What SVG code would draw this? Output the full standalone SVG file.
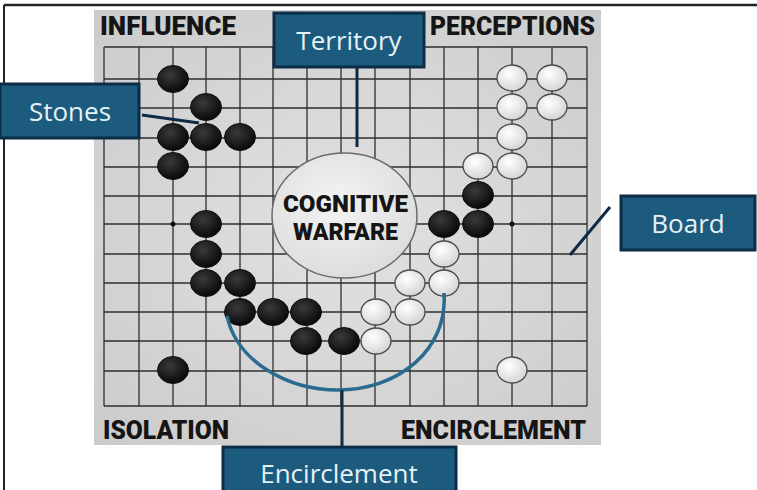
<svg xmlns="http://www.w3.org/2000/svg" width="757" height="490" viewBox="0 0 757 490">
<style>
.grid line{stroke:#2e2e2e;stroke-width:1.3}
.blk{fill:url(#gb);stroke:#111;stroke-width:1}
.wht{fill:url(#gw);stroke:#4a4a4a;stroke-width:1.3}
.corner{font-family:Roboto,"Liberation Sans",sans-serif;font-weight:900;font-size:25px;fill:#151515}
.box rect{fill:#1c5b7e;stroke:#0c2d45;stroke-width:3}
.box text{font-family:"Open Sans","Noto Sans",sans-serif;font-size:26px;fill:#e4f1f7;text-anchor:middle}
.conn{stroke:#0e2a44;stroke-width:3;fill:none}
</style>
<defs>
<radialGradient id="gb" cx="0.4" cy="0.35" r="0.7"><stop offset="0" stop-color="#3a3a3a"/><stop offset="1" stop-color="#050505"/></radialGradient>
<radialGradient id="gw" cx="0.4" cy="0.35" r="0.75"><stop offset="0" stop-color="#ffffff"/><stop offset="1" stop-color="#cfcfcf"/></radialGradient>
<radialGradient id="gboard" cx="0.5" cy="0.5" r="0.7"><stop offset="0" stop-color="#e2e2e2"/><stop offset="1" stop-color="#cbcbcb"/></radialGradient>
<radialGradient id="gcirc" cx="0.45" cy="0.4" r="0.7"><stop offset="0" stop-color="#f4f4f4"/><stop offset="1" stop-color="#d9d9d9"/></radialGradient>
</defs>
<rect x="0" y="0" width="757" height="490" fill="#ffffff"/>
<line x1="4" y1="5" x2="757" y2="5" stroke="#222" stroke-width="2.5"/>
<line x1="4" y1="5" x2="4" y2="490" stroke="#222" stroke-width="2"/>
<g id="board">
<rect x="94" y="10" width="507" height="435" fill="url(#gboard)"/>
<g class="grid">
<line x1="104" y1="47" x2="104" y2="406"/><line x1="139" y1="47" x2="139" y2="406"/><line x1="173" y1="47" x2="173" y2="406"/><line x1="206" y1="47" x2="206" y2="406"/><line x1="240" y1="47" x2="240" y2="406"/><line x1="273" y1="47" x2="273" y2="406"/><line x1="307" y1="47" x2="307" y2="406"/><line x1="341" y1="47" x2="341" y2="406"/><line x1="375" y1="47" x2="375" y2="406"/><line x1="410" y1="47" x2="410" y2="406"/><line x1="444" y1="47" x2="444" y2="406"/><line x1="478" y1="47" x2="478" y2="406"/><line x1="512" y1="47" x2="512" y2="406"/><line x1="552" y1="47" x2="552" y2="406"/><line x1="587" y1="47" x2="587" y2="406"/>
<line x1="104" y1="47" x2="587" y2="47"/><line x1="104" y1="79" x2="587" y2="79"/><line x1="104" y1="108" x2="587" y2="108"/><line x1="104" y1="138" x2="587" y2="138"/><line x1="104" y1="167" x2="587" y2="167"/><line x1="104" y1="196" x2="587" y2="196"/><line x1="104" y1="224" x2="587" y2="224"/><line x1="104" y1="254" x2="587" y2="254"/><line x1="104" y1="283" x2="587" y2="283"/><line x1="104" y1="312" x2="587" y2="312"/><line x1="104" y1="341" x2="587" y2="341"/><line x1="104" y1="371" x2="587" y2="371"/><line x1="104" y1="406" x2="587" y2="406"/>
</g>
<circle cx="173" cy="224" r="2.5" fill="#111"/>
<circle cx="512" cy="224" r="2.5" fill="#111"/>
<text class="corner" x="100" y="35" textLength="136" lengthAdjust="spacingAndGlyphs">INFLUENCE</text>
<text class="corner" x="430" y="35" textLength="165" lengthAdjust="spacingAndGlyphs">PERCEPTIONS</text>
<text class="corner" x="103" y="439" textLength="126" lengthAdjust="spacingAndGlyphs">ISOLATION</text>
<text class="corner" x="401" y="439" textLength="185" lengthAdjust="spacingAndGlyphs">ENCIRCLEMENT</text>
</g>
<g id="stones">
<g class="blk-stones">
<ellipse class="blk" cx="173" cy="79" rx="15.5" ry="13.5"/>
<ellipse class="blk" cx="206" cy="107" rx="15.5" ry="13.5"/>
<ellipse class="blk" cx="173" cy="137" rx="15.5" ry="13.5"/>
<ellipse class="blk" cx="206" cy="137" rx="15.5" ry="13.5"/>
<ellipse class="blk" cx="240" cy="137" rx="15.5" ry="13.5"/>
<ellipse class="blk" cx="173" cy="166" rx="15.5" ry="13.5"/>
<ellipse class="blk" cx="206" cy="224" rx="15.5" ry="13.5"/>
<ellipse class="blk" cx="206" cy="254" rx="15.5" ry="13.5"/>
<ellipse class="blk" cx="206" cy="283" rx="15.5" ry="13.5"/>
<ellipse class="blk" cx="240" cy="283" rx="15.5" ry="13.5"/>
<ellipse class="blk" cx="240" cy="312" rx="15.5" ry="13.5"/>
<ellipse class="blk" cx="273" cy="312" rx="15.5" ry="13.5"/>
<ellipse class="blk" cx="306" cy="312" rx="15.5" ry="13.5"/>
<ellipse class="blk" cx="306" cy="341" rx="15.5" ry="13.5"/>
<ellipse class="blk" cx="344" cy="341" rx="15.5" ry="13.5"/>
<ellipse class="blk" cx="173" cy="370" rx="15.5" ry="13.5"/>
<ellipse class="blk" cx="478" cy="195" rx="15.5" ry="13.5"/>
<ellipse class="blk" cx="444" cy="224" rx="15.5" ry="13.5"/>
<ellipse class="blk" cx="478" cy="224" rx="15.5" ry="13.5"/>
</g>
<g class="wht-stones">
<ellipse class="wht" cx="512" cy="78" rx="15" ry="13"/>
<ellipse class="wht" cx="552" cy="78" rx="15" ry="13"/>
<ellipse class="wht" cx="512" cy="107" rx="15" ry="13"/>
<ellipse class="wht" cx="552" cy="107" rx="15" ry="13"/>
<ellipse class="wht" cx="512" cy="137" rx="15" ry="13"/>
<ellipse class="wht" cx="478" cy="166" rx="15" ry="13"/>
<ellipse class="wht" cx="512" cy="166" rx="15" ry="13"/>
<ellipse class="wht" cx="444" cy="254" rx="15" ry="13"/>
<ellipse class="wht" cx="410" cy="283" rx="15" ry="13"/>
<ellipse class="wht" cx="444" cy="283" rx="15" ry="13"/>
<ellipse class="wht" cx="376" cy="312" rx="15" ry="13"/>
<ellipse class="wht" cx="410" cy="312" rx="15" ry="13"/>
<ellipse class="wht" cx="376" cy="341" rx="15" ry="13"/>
<ellipse class="wht" cx="512" cy="370" rx="15" ry="13"/>
</g>
</g>
<g id="cognitive-warfare">
<ellipse cx="344.5" cy="215.5" rx="72.5" ry="62.5" fill="url(#gcirc)" stroke="#6a6a6a" stroke-width="1.5"/>
<text x="345.5" y="212" font-family="Roboto,'Liberation Sans',sans-serif" font-weight="900" font-size="24" fill="#151515" text-anchor="middle" textLength="125" lengthAdjust="spacingAndGlyphs">COGNITIVE</text>
<text x="345.5" y="240" font-family="Roboto,'Liberation Sans',sans-serif" font-weight="900" font-size="24" fill="#151515" text-anchor="middle" textLength="105" lengthAdjust="spacingAndGlyphs">WARFARE</text>
</g>
<g id="connectors">
<line class="conn" x1="142" y1="115" x2="199" y2="123"/>
<line class="conn" x1="357" y1="67" x2="357" y2="147"/>
<line class="conn" x1="610" y1="207" x2="570" y2="255"/>
<path d="M227,316 C237,362 288,390 338,390 C398,390 448,350 444,293" fill="none" stroke="#2a6b8f" stroke-width="3.5"/>
<line class="conn" x1="342" y1="390" x2="342" y2="446"/>
</g>
<g id="territory" class="box">
<rect x="274" y="13" width="150" height="54"/>
<text x="349" y="50">Territory</text>
</g>
<g id="stones-label" class="box">
<rect x="0" y="84" width="139" height="54"/>
<text x="70" y="121">Stones</text>
</g>
<g id="board-label" class="box">
<rect x="621" y="196" width="134" height="54"/>
<text x="688" y="233">Board</text>
</g>
<g id="encirclement" class="box">
<rect x="223" y="447" width="233" height="50"/>
<text x="339" y="483">Encirclement</text>
</g>
</svg>
